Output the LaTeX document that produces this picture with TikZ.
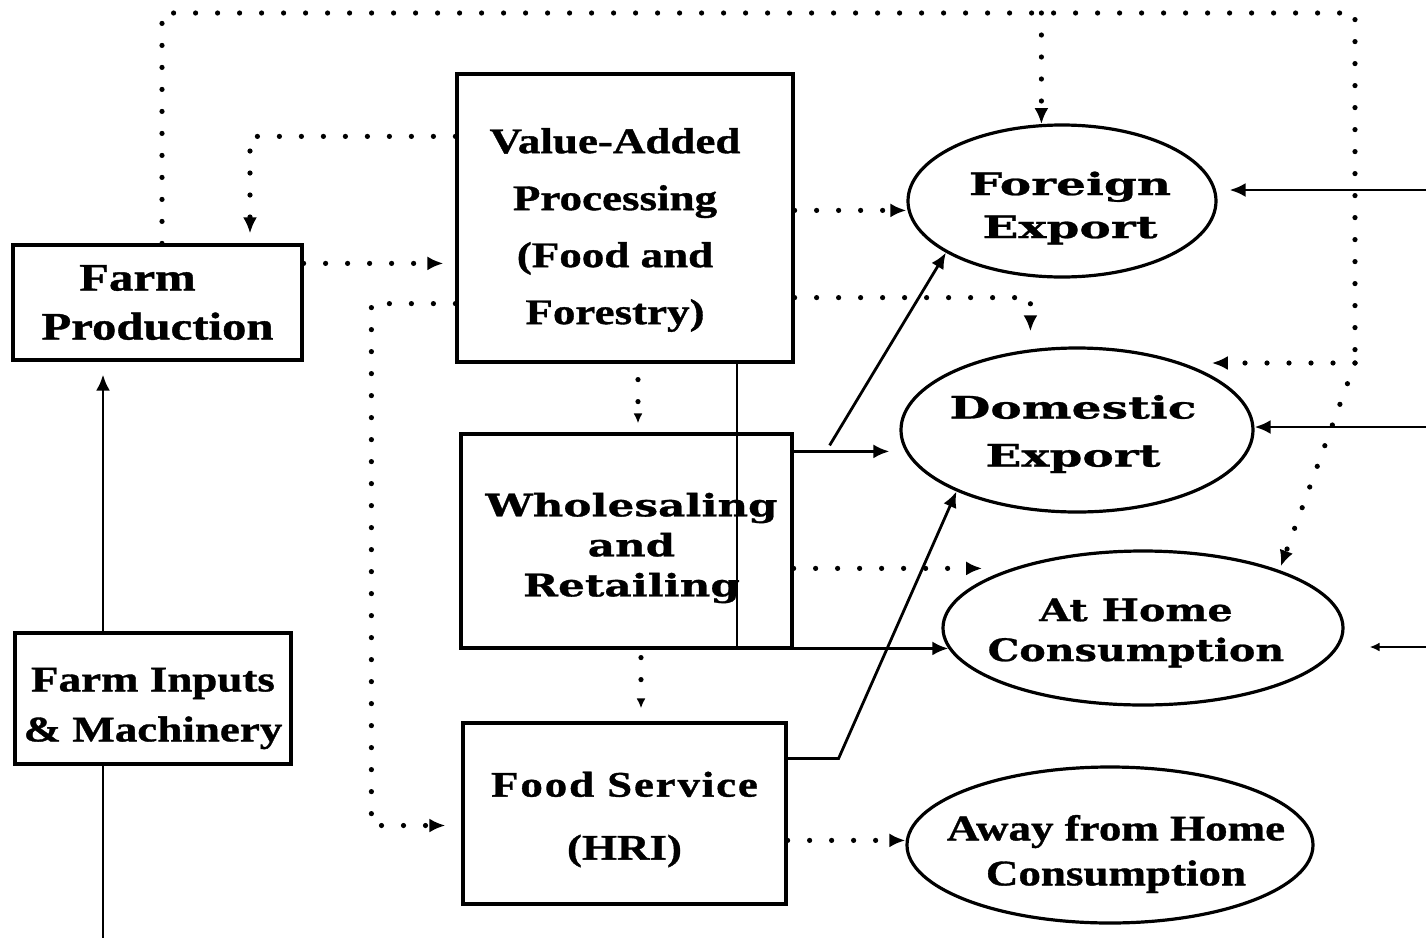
\documentclass[tikz,border=0pt]{standalone}
\usepackage{fontspec}
\setmainfont{Liberation Serif}
\newfontfamily\timesB[FakeStretch=1.25,BoldFeatures={FakeBold=1}]{Liberation Serif}
\newfontfamily\timesBS[FakeStretch=1.25,LetterSpace=5,BoldFeatures={FakeBold=1}]{Liberation Serif}
\newfontfamily\wideB[FakeStretch=1.52,BoldFeatures={FakeBold=0.8}]{DejaVu Serif}
\newfontfamily\wideC[FakeStretch=1.28,BoldFeatures={FakeBold=0.8}]{DejaVu Serif}
\newfontfamily\wideD[FakeStretch=1.36,BoldFeatures={FakeBold=0.8}]{DejaVu Serif}
\usetikzlibrary{arrows.meta,shapes.geometric}
\begin{document}
\begin{tikzpicture}[x=0.5pt,y=-0.5pt,
  box/.style={draw, line width=1.6pt, rectangle, inner sep=0pt},
  oval/.style={draw, line width=1.6pt, ellipse, inner sep=0pt},
  tfont/.style={font={\timesB\bfseries\fontsize{18}{#1}\selectfont}, align=center},
  conn/.style={line width=1.4pt},
  arr/.style={-{Latex[length=8pt,width=7pt]}},
  smallarr/.style={-{Latex[length=5pt,width=4.5pt]}},
  dots/.style={line width=2.6pt, line cap=round, dash pattern=on 0pt off 11pt}]
\useasboundingbox (0,0) rectangle (1426,938);
\fill[white] (0,0) rectangle (1426,938);

% boxes
\node[box, minimum width=144.5pt, minimum height=57.5pt,
  label={[font={\timesB\bfseries\fontsize{19.5}{24.5}\selectfont}, align=center]center:Farm\hspace*{20pt}\\Production}] (farm) at (157.5,302.5) {};
\node[box, minimum width=138pt, minimum height=65.5pt,
  label={[tfont=25, yshift=-5pt]center:Farm Inputs\\\& Machinery}] (inputs) at (153,698.5) {};
\node[box, minimum width=168pt, minimum height=144pt,
  label={[tfont=28.5, xshift=-5pt, yshift=-6pt]center:Value-Added\\Processing\\(Food and\\Forestry)}] (vap) at (625,218) {};
\node[box, minimum width=165.5pt, minimum height=107pt,
  label={[font={\wideD\bfseries\fontsize{15.5}{20}\selectfont}, align=center, xshift=2.5pt, yshift=-3.5pt]center:Wholesaling\\and\\Retailing}] (wr) at (626.5,541) {};
\node[box, minimum width=161.5pt, minimum height=90.5pt,
  label={[tfont=31.5, yshift=-3pt]center:{\timesBS Food Service}\\(HRI)}] (fs) at (624.5,813.5) {};

% ellipses
\node[oval, minimum width=154pt, minimum height=76pt,
  label={[font={\wideB\bfseries\fontsize{15.5}{21.5}\selectfont}, align=center, xshift=4pt, yshift=-3.5pt]center:Foreign\\Export}] (fe) at (1062,201) {};
\node[oval, minimum width=176pt, minimum height=82pt,
  label={[font={\wideB\bfseries\fontsize{15.5}{24}\selectfont}, align=center, xshift=-2pt, yshift=-2pt]center:Domestic\\Export}] (de) at (1077,430) {};
\node[oval, minimum width=200pt, minimum height=77pt,
  label={[font={\wideC\bfseries\fontsize{15.5}{20}\selectfont}, align=center, xshift=-3.5pt, yshift=-2.5pt]center:At Home\\Consumption}] (ah) at (1143,628) {};
\node[oval, minimum width=203pt, minimum height=78pt,
  label={[tfont=22.5, xshift=3pt, yshift=-4.5pt]center:Away from Home\\Consumption}] (aw) at (1110,845) {};

% helper coordinates
\coordinate (inB) at (103,938);
\coordinate (vx) at (737,0);
\coordinate (tl) at (162,13);
\coordinate (tr) at (1355,13);
\coordinate (rc) at (1355,363);
\coordinate (r1) at (1426,190);
\coordinate (r2) at (1426,427);
\coordinate (r3) at (1426,647);

% solid connectors
\draw[conn] (inB) -- (inB |- inputs.south);
\draw[conn,arr,shorten >=6.5pt] (inB |- inputs.north) -- (inB |- farm.south);
\draw[conn,arr] (vx |- vap.south) |- (ah.186);
\draw[conn,arr,shorten >=5pt] ([yshift=-9.5pt]wr.north east) -- ([yshift=-9.5pt]wr.north east -| de.west);
\draw[conn,arr] ([xshift=18pt,yshift=-6.5pt]wr.north east) -- (fe.204);
\draw[conn,arr] ([yshift=-18.5pt]fs.north east) -- ++(25.5pt,0) -- (de.207);
\draw[conn,arr,shorten >=6pt] (r1) -- (r1 -| fe.east);
\draw[conn,arr] (r2) -- (r2 -| de.east);
\draw[conn,smallarr,shorten >=12.5pt] (r3) -- (r3 -| ah.east);

% dotted connectors
\draw[dots] (tl |- farm.north) -- (tl) -- (tr) -- (rc);
\draw[dots,arr] (rc) -- (rc -| de.22);
\draw[dots,arr,shorten >=2pt] (rc) -- (ah.23);
\draw[dots,arr] (fe.105 |- tl) -- (fe.105);
\draw[dots,arr,shorten >=5pt] ([yshift=-32pt]vap.north west) -| ([xshift=46.25pt]farm.north);
\draw[dots,arr,shorten >=6pt] ([yshift=-10pt]farm.north east) -- ([yshift=-10pt]farm.north east -| vap.west);
\draw[dots,arr,shorten >=8pt] ([yshift=30pt]vap.south west) -- ++(-42pt,0) |- ([yshift=-6pt]fs.west);
\draw[dots,arr] ([yshift=-69pt]vap.north east) -- ([yshift=-69pt]vap.north east -| fe.west);
\draw[dots,arr,shorten >=9pt] ([yshift=33pt]vap.south east) -| (de.120);
\draw[dots,smallarr,shorten <=8pt,shorten >=4.5pt] ([xshift=6.5pt]vap.south) -- ([xshift=6.5pt]vap.south |- wr.north);
\draw[dots,smallarr,shorten <=4pt,shorten >=6.5pt] ([xshift=7.25pt]wr.south) -- ([xshift=7.25pt]wr.south |- fs.north);
\draw[dots,arr,shorten >=14pt] ([yshift=-68pt]wr.north east) -- ([yshift=-68pt]wr.north east -| ah.156);
\draw[dots,arr] ([yshift=-59.5pt]fs.north east) -- ([yshift=-59.5pt]fs.north east -| aw.west);
\end{tikzpicture}
\end{document}
